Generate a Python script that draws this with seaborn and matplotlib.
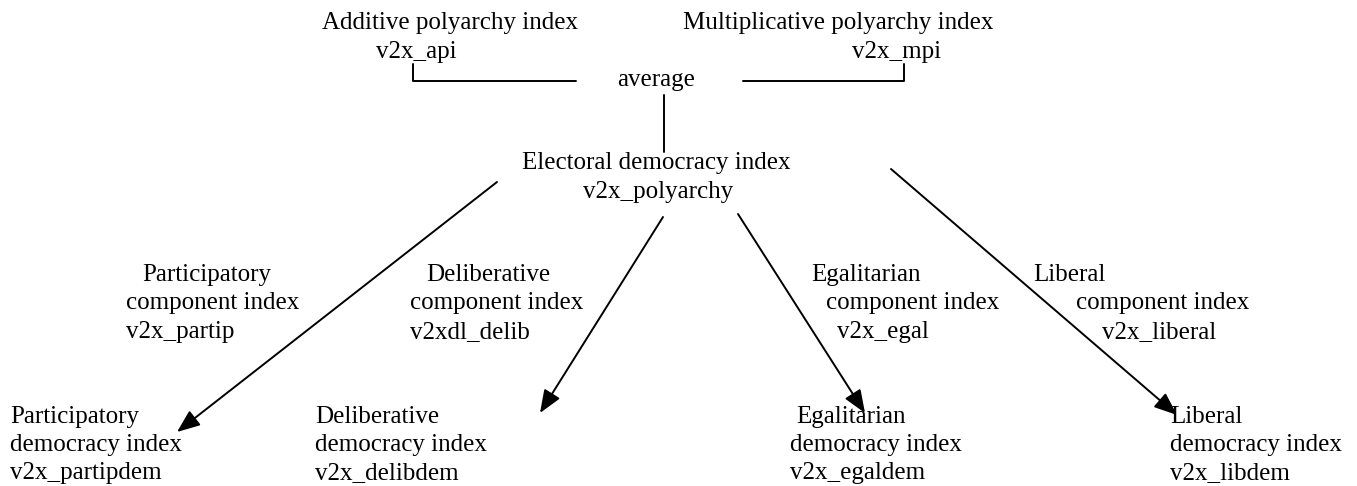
import matplotlib
matplotlib.use("Agg")
import matplotlib.pyplot as plt
import seaborn as sns
import pandas as pd

# 1. DIAGRAM CONTENT
# label text, one entry per printed line
label_lines = [
    "Additive polyarchy index", "v2x_api",
    "Multiplicative polyarchy index", "v2x_mpi",
    "average",
    "Electoral democracy index", "v2x_polyarchy",
    "Participatory", "component index", "v2x_partip",
    "Deliberative", "component index", "v2xdl_delib",
    "Egalitarian", "component index", "v2x_egal",
    "Liberal", "component index", "v2x_liberal",
    "Participatory", "democracy index", "v2x_partipdem",
    "Deliberative", "democracy index", "v2x_delibdem",
    "Egalitarian", "democracy index", "v2x_egaldem",
    "Liberal", "democracy index", "v2x_libdem",
]
# left edge / vertical centre of each line (pixel space of the picture)
label_x = [322, 376, 683, 852, 617, 522, 583,
           142, 126, 126, 426, 410, 410, 811, 826, 837, 1033, 1076, 1102,
           10, 10, 10, 315, 315, 315, 796, 790, 790, 1170, 1170, 1170]
label_y = [23, 52, 23, 52, 80, 163, 192,
           275, 303, 332, 275, 303, 332, 275, 303, 332, 275, 303, 332,
           417, 445, 473, 417, 445, 473, 417, 445, 473, 417, 445, 473]

# plain connectors (brackets into "average" and the link down to the electoral index)
link_id = ["api", "api", "api", "mpi", "mpi", "mpi", "avg", "avg"]
link_x = [413, 413, 576, 743, 904, 904, 664, 664]
link_y = [64, 81, 81, 81, 81, 64, 95, 152]

# arrows from the electoral index to the four high-level indices
arrow_names = ["partip", "delib", "egal", "lib"]
arrow_start_x = [497, 663, 738, 891]
arrow_start_y = [182, 217, 214, 169]
arrow_end_x = [177, 540, 865, 1177]
arrow_end_y = [432, 413, 413, 415]

# 2. PLOTTING
sns.set_theme(style="white")
plt.rcParams['font.family'] = ['Liberation Serif', 'DejaVu Serif']

fig = plt.figure(figsize=(13.57, 4.86), dpi=100)
ax = fig.add_axes([0, 0, 1, 1])

links = pd.DataFrame({"link": link_id, "x": link_x, "y": link_y})
sns.lineplot(data=links, x="x", y="y", units="link", estimator=None,
             sort=False, color="black", linewidth=1.4, ax=ax)

for x0, y0, x1, y1 in zip(arrow_start_x, arrow_start_y, arrow_end_x, arrow_end_y):
    ax.annotate("", xy=(x1, y1), xytext=(x0, y0),
                arrowprops=dict(arrowstyle="-|>,head_length=0.7,head_width=0.28",
                                mutation_scale=20, color="black", lw=1.4,
                                shrinkA=0, shrinkB=0))

for txt, x, y in zip(label_lines, label_x, label_y):
    ax.text(x, y, txt, ha="left", va="center", fontsize=18, color="black")

ax.set_xlim(0, 1357)
ax.set_ylim(486, 0)
ax.axis("off")

fig.savefig("out.png", dpi=100, facecolor="white")
